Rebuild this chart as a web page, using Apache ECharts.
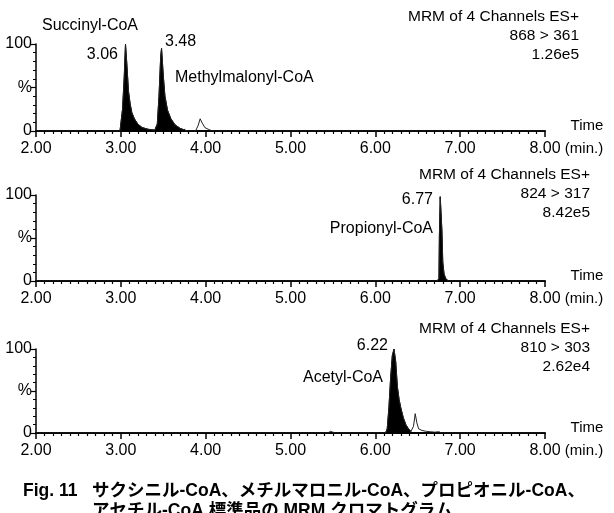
<!DOCTYPE html>
<html>
<head>
<meta charset="utf-8">
<script src="https://cdn.jsdelivr.net/npm/echarts@6/dist/echarts.min.js"></script>
<style>
  html, body { margin: 0; padding: 0; background: #fff; }
  #main { width: 614px; height: 513px; }
</style>
</head>
<body>
<div id="main"></div>
<script>
// ---- data (time in min, intensity in %) ----
var xTicks = [2, 3, 4, 5, 6, 7, 8];

// panel 1 : 868 > 361
var trace1Time = [2.00, 2.99, 3.00, 3.02, 3.04, 3.055, 3.07, 3.09, 3.11, 3.13, 3.16, 3.20, 3.25, 3.32, 3.40,
                  3.41, 3.43, 3.45, 3.47, 3.48, 3.50, 3.52, 3.55, 3.59, 3.64, 3.70, 3.74, 3.76, 3.78,
                  3.88, 3.91, 3.935, 3.96, 3.99, 4.03, 4.08, 8.00];
var trace1Pct  = [0, 0, 1, 25, 62, 100, 78, 46, 31, 21, 14, 8, 4, 2, 1,
                  0.5, 8, 40, 86, 95, 64, 40, 24, 14, 7, 3, 1.5, 2, 0,
                  0, 6, 14, 9, 4, 2, 0, 0];
var fill1Range = [2.99, 3.76];

// panel 2 : 824 > 317
var trace2Time = [2.00, 6.73, 6.75, 6.755, 6.765, 6.775, 6.785, 6.795, 6.81, 6.83, 6.86, 8.00];
var trace2Pct  = [0, 0, 3, 52, 98, 100, 58, 22, 8, 3, 0, 0];
var fill2Range = [6.73, 6.86];

// panel 3 : 810 > 303
var trace3Time = [2.00, 5.44, 5.47, 5.50, 5.53, 6.12, 6.14, 6.16, 6.18, 6.20, 6.22, 6.24, 6.26, 6.28, 6.30,
                  6.33, 6.36, 6.39, 6.42, 6.43, 6.45, 6.47, 6.49, 6.51, 6.55, 6.60, 6.65, 6.70, 6.75, 6.78, 8.00];
var trace3Pct  = [0, 0, 2, 1, 0, 0, 5, 30, 65, 92, 100, 85, 55, 40, 30,
                  18, 10, 5, 2, 1, 8, 23, 12, 5, 3, 2, 1.5, 1, 1.5, 0, 0];
var fill3Range = [6.12, 6.43];

var channelText = [
    ['MRM of 4 Channels ES+', '868 > 361', '1.26e5'],
    ['MRM of 4 Channels ES+', '824 > 317', '8.42e5'],
    ['MRM of 4 Channels ES+', '810 > 303', '2.62e4']
];

var FONT = '"Liberation Sans", Arial, "Noto Sans CJK JP", sans-serif';

function pairs(t, v) {
    var out = [];
    for (var i = 0; i < t.length; i++) out.push([t[i], v[i]]);
    return out;
}
function inRange(t, v, r) {
    var out = [];
    for (var i = 0; i < t.length; i++) {
        if (t[i] >= r[0] && t[i] <= r[1]) out.push([t[i], v[i]]);
    }
    return out;
}

var gridTops = [44, 195, 349];
var gridHeights = [87, 86, 84];

var grids = [], xAxes = [], yAxes = [], series = [];
for (var g = 0; g < 3; g++) {
    grids.push({ left: 36, right: 69, top: gridTops[g], height: gridHeights[g] });
    xAxes.push({
        type: 'value', gridIndex: g, min: 2, max: 8, interval: 1,
        axisLine: { lineStyle: { color: '#000', width: 2 } },
        axisTick: { length: 6, lineStyle: { color: '#000', width: 1.5 } },
        minorTick: { show: true, splitNumber: 10, length: 3, lineStyle: { color: '#000', width: 1.2 } },
        splitLine: { show: false },
        axisLabel: {
            color: '#000', fontSize: 16, fontFamily: FONT, margin: 10,
            formatter: function (v) { return v.toFixed(2); }
        }
    });
    yAxes.push({
        type: 'value', gridIndex: g, min: 0, max: 100, interval: 50,
        axisLine: { show: true, lineStyle: { color: '#000', width: 1.5 } },
        axisTick: { show: true, length: 5, lineStyle: { color: '#000', width: 1.2 } },
        minorTick: { show: true, splitNumber: 5, length: 3, lineStyle: { color: '#000', width: 1 } },
        splitLine: { show: false },
        axisLabel: {
            color: '#000', fontSize: 16, fontFamily: FONT, margin: 4,
            formatter: function (v) { return v === 50 ? '%' : String(v); }
        }
    });
}

var traces = [[trace1Time, trace1Pct, fill1Range], [trace2Time, trace2Pct, fill2Range], [trace3Time, trace3Pct, fill3Range]];
traces.forEach(function (tr, g) {
    series.push({
        type: 'line', xAxisIndex: g, yAxisIndex: g, data: inRange(tr[0], tr[1], tr[2]),
        symbol: 'none', silent: true,
        lineStyle: { color: '#000', width: 1 },
        areaStyle: { color: '#000', opacity: 1 }
    });
    series.push({
        type: 'line', xAxisIndex: g, yAxisIndex: g, data: pairs(tr[0], tr[1]),
        symbol: 'none', silent: true,
        lineStyle: { color: '#222', width: 1 }
    });
});

// text annotations
var graphics = [];
function txt(x, y, s, align, size, weight) {
    graphics.push({
        type: 'text', x: x, y: y,
        style: {
            text: s, fill: '#000', align: align || 'left', verticalAlign: 'middle',
            fontSize: size || 16, fontFamily: FONT, fontWeight: weight || 'normal'
        }
    });
}
var mrmRight = [579, 590, 590];
var mrmY = [17, 175, 329];
for (var k = 0; k < 3; k++) {
    txt(mrmRight[k], mrmY[k], channelText[k][0], 'right', 15.5);
    txt(mrmRight[k], mrmY[k] + 19, channelText[k][1], 'right', 15.5);
    txt(mrmRight[k], mrmY[k] + 38, channelText[k][2], 'right', 15.5);
    var base = gridTops[k] + gridHeights[k];
    txt(587, base - 5, 'Time', 'center', 15);
    txt(584, base + 18, '(min.)', 'center', 15);
}

txt(42, 26, 'Succinyl-CoA', 'left', 16);
txt(118, 55, '3.06', 'right', 16);
txt(165, 42, '3.48', 'left', 16);
txt(175, 78, 'Methylmalonyl-CoA', 'left', 16);

txt(433, 200, '6.77', 'right', 16);
txt(433, 229, 'Propionyl-CoA', 'right', 16);

txt(388, 346, '6.22', 'right', 16);
txt(383, 378, 'Acetyl-CoA', 'right', 16);

txt(23, 491, 'Fig. 11', 'left', 17.5, 'bold');
txt(92, 491, 'サクシニル-CoA、メチルマロニル-CoA、プロピオニル-CoA、', 'left', 17.5, 'bold');
txt(92, 511, 'アセチル-CoA 標準品の MRM クロマトグラム', 'left', 17.5, 'bold');

var chart = echarts.init(document.getElementById('main'), null, { renderer: 'canvas' });
chart.setOption({
    animation: false,
    backgroundColor: '#fff',
    grid: grids,
    xAxis: xAxes,
    yAxis: yAxes,
    series: series,
    graphic: graphics
});
</script>
</body>
</html>
